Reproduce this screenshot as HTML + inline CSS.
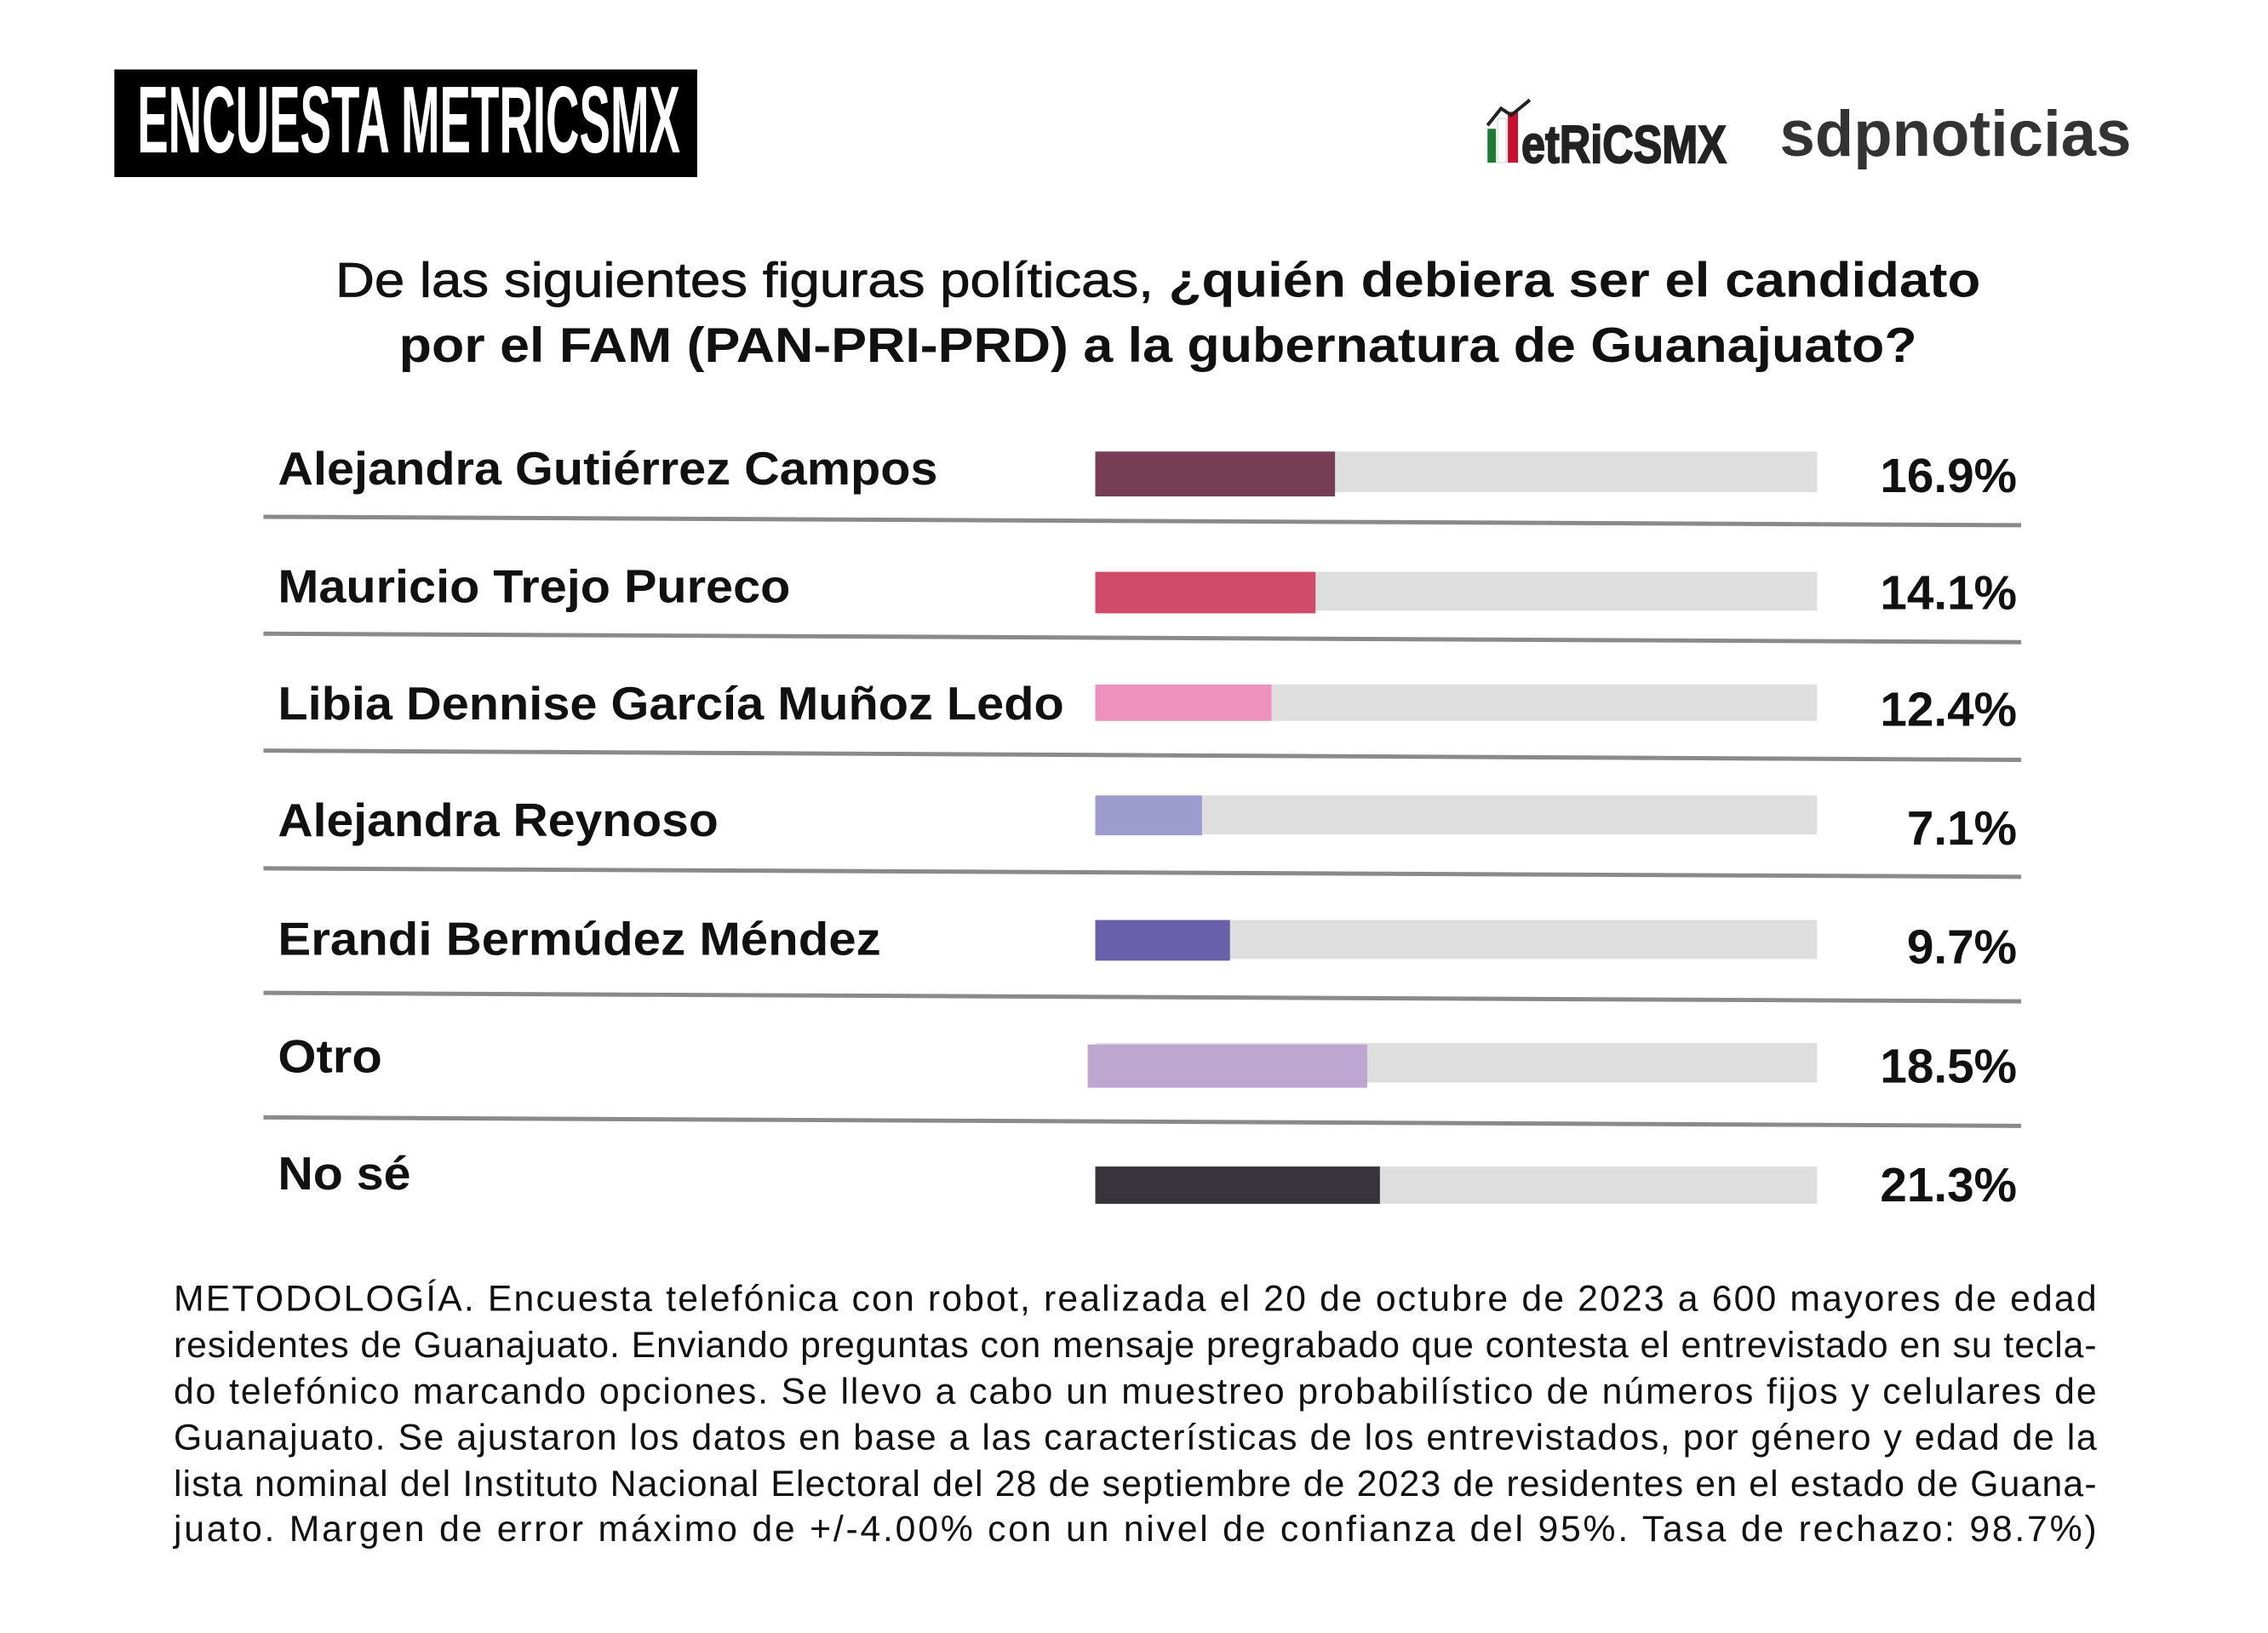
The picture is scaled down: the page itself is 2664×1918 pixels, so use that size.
<!DOCTYPE html>
<html><head><meta charset="utf-8"><style>
html,body{margin:0;padding:0;background:#fff;}
svg{display:block;}
text{font-family:"Liberation Sans",Arial,sans-serif;}
</style></head><body>
<svg width="2664" height="1918" viewBox="0 0 2664 1918" xmlns="http://www.w3.org/2000/svg">
<rect x="0" y="0" width="2664" height="1918" fill="#fff"/>
<g transform="scale(0.995)">
<!-- header box -->
<rect x="135" y="82" width="688" height="127" fill="#000"/>
<text x="162" y="180" font-size="112" font-weight="bold" fill="#fff" textLength="641" lengthAdjust="spacingAndGlyphs">ENCUESTA METRICSMX</text>
<!-- metricsmx logo -->
<rect x="1756" y="152" width="10" height="40" fill="#1e7b34"/>
<rect x="1768" y="140" width="10" height="52" fill="#fff" stroke="#ccc" stroke-width="1"/>
<rect x="1780" y="132" width="12" height="60" fill="#c8102e"/>
<polyline points="1756,148 1772,128 1784,136 1806,118" fill="none" stroke="#222" stroke-width="4"/>
<text x="1796" y="192" font-size="62" font-weight="bold" fill="#222" stroke="#222" stroke-width="2" textLength="242" lengthAdjust="spacingAndGlyphs">etRiCSMX</text>
<text x="2101" y="184" font-size="76" font-weight="bold" fill="#333" textLength="415" lengthAdjust="spacingAndGlyphs">sdpnoticias</text>
<!-- title -->
<text x="396" y="350" font-size="58" fill="#111" textLength="1942" lengthAdjust="spacingAndGlyphs"><tspan stroke="#111" stroke-width="0.8">De las siguientes figuras políticas, </tspan><tspan font-weight="bold">¿quién debiera ser el candidato</tspan></text>
<text x="471" y="427" font-size="58" font-weight="bold" fill="#111" textLength="1792" lengthAdjust="spacingAndGlyphs">por el FAM (PAN-PRI-PRD) a la gubernatura de Guanajuato?</text>
<!-- separators -->
<g stroke="#8a8a8a" stroke-width="5">
<line x1="311" y1="610" x2="2386" y2="620"/>
<line x1="311" y1="748" x2="2386" y2="758"/>
<line x1="311" y1="886" x2="2386" y2="897"/>
<line x1="311" y1="1025" x2="2386" y2="1035"/>
<line x1="311" y1="1172" x2="2386" y2="1182"/>
<line x1="311" y1="1319" x2="2386" y2="1329"/>
</g>
<!-- gray tracks -->
<g fill="#dedede">
<rect x="1293" y="533" width="852" height="48"/>
<rect x="1293" y="675" width="852" height="46"/>
<rect x="1293" y="808" width="852" height="43"/>
<rect x="1293" y="939" width="852" height="46"/>
<rect x="1293" y="1086" width="852" height="46"/>
<rect x="1293" y="1231" width="852" height="47"/>
<rect x="1293" y="1377" width="852" height="44"/>
</g>
<rect x="1293" y="533" width="283" height="53" fill="#773d55"/>
<rect x="1293" y="675" width="260" height="49" fill="#cf4b68"/>
<rect x="1293" y="808" width="208" height="43" fill="#ee91bc"/>
<rect x="1293" y="939" width="126" height="47" fill="#9e9ccc"/>
<rect x="1293" y="1086" width="159" height="48" fill="#6a5fab"/>
<rect x="1284" y="1233" width="330" height="51" fill="#bda7d1"/>
<rect x="1293" y="1377" width="336" height="44" fill="#37343b"/>
<!-- labels -->
<g font-size="55" font-weight="bold" fill="#111">
<text x="328" y="572" textLength="779" lengthAdjust="spacingAndGlyphs">Alejandra Gutiérrez Campos</text>
<text x="328" y="711" textLength="605" lengthAdjust="spacingAndGlyphs">Mauricio Trejo Pureco</text>
<text x="328" y="849" textLength="928" lengthAdjust="spacingAndGlyphs">Libia Dennise García Muñoz Ledo</text>
<text x="328" y="987" textLength="520" lengthAdjust="spacingAndGlyphs">Alejandra Reynoso</text>
<text x="328" y="1127" textLength="712" lengthAdjust="spacingAndGlyphs">Erandi Bermúdez Méndez</text>
<text x="328" y="1266" textLength="123" lengthAdjust="spacingAndGlyphs">Otro</text>
<text x="328" y="1404" textLength="157" lengthAdjust="spacingAndGlyphs">No sé</text>
</g>
<g font-size="57" font-weight="bold" fill="#111" text-anchor="end">
<text x="2381" y="581">16.9%</text>
<text x="2381" y="719">14.1%</text>
<text x="2381" y="857">12.4%</text>
<text x="2381" y="997">7.1%</text>
<text x="2381" y="1137">9.7%</text>
<text x="2381" y="1278">18.5%</text>
<text x="2381" y="1418">21.3%</text>
</g>
<!-- methodology -->
<g font-size="43" fill="#111">
<text x="205" y="1547" textLength="2270" lengthAdjust="spacing">METODOLOGÍA. Encuesta telefónica con robot, realizada el 20 de octubre de 2023 a 600 mayores de edad</text>
<text x="205" y="1602" textLength="2270" lengthAdjust="spacing">residentes de Guanajuato. Enviando preguntas con mensaje pregrabado que contesta el entrevistado en su tecla-</text>
<text x="205" y="1657" textLength="2270" lengthAdjust="spacing">do telefónico marcando opciones. Se llevo a cabo un muestreo probabilístico de números fijos y celulares de</text>
<text x="205" y="1711" textLength="2270" lengthAdjust="spacing">Guanajuato. Se ajustaron los datos en base a las características de los entrevistados, por género y edad de la</text>
<text x="205" y="1766" textLength="2270" lengthAdjust="spacing">lista nominal del Instituto Nacional Electoral del 28 de septiembre de 2023 de residentes en el estado de Guana-</text>
<text x="205" y="1819" textLength="2270" lengthAdjust="spacing">juato. Margen de error máximo de +/-4.00% con un nivel de confianza del 95%. Tasa de rechazo: 98.7%)</text>
</g>
</g>
</svg>
</body></html>
